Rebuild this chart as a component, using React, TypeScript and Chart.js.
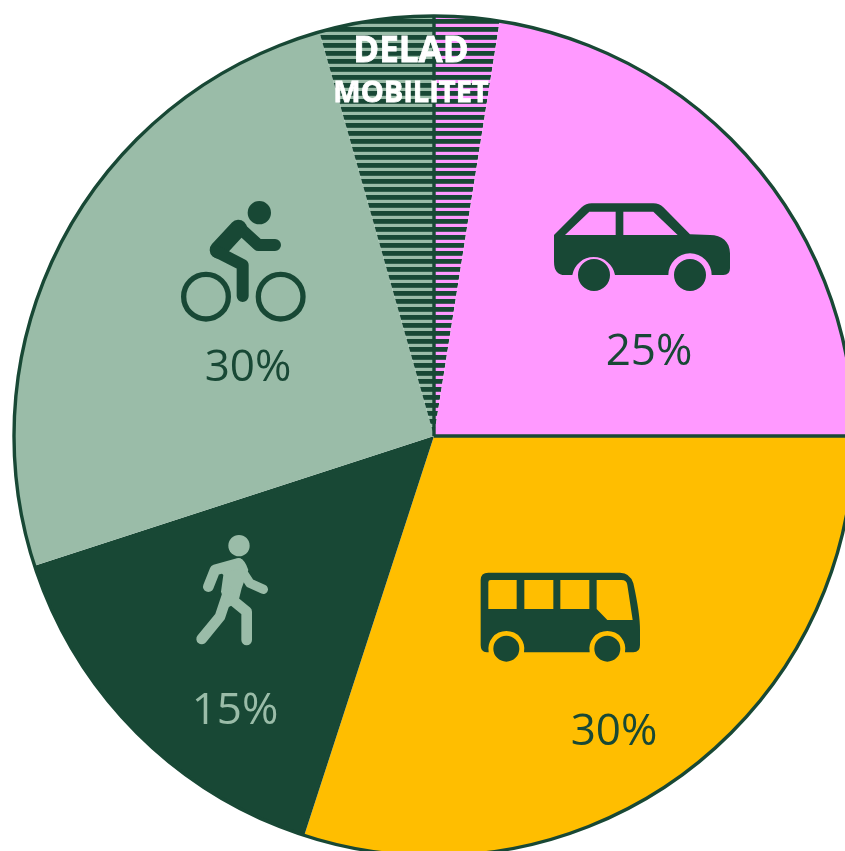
import React, { useEffect, useRef } from "react";
import { Chart, registerables } from "chart.js";

Chart.register(...registerables);

const categories = ["Delad bil", "Bil", "Kollektivtrafik", "Gång", "Cykel", "Delad cykel"];
const shareValues = [2.5, 22.5, 30, 15, 25.6, 4.4];
const percentLabels = ["25%", "30%", "15%", "30%"];
const sharedLines = ["DELAD", "MOBILITET"];

const DARK = "#184835";
const LIGHT = "#9abca8";
const PINK = "#ff99ff";
const YELLOW = "#ffbe00";

const labelPlaces = [
  { x: 649, y: 365, color: DARK },
  { x: 614, y: 745, color: DARK },
  { x: 235, y: 724, color: LIGHT },
  { x: 248, y: 381, color: DARK },
];

function stripes(ctx: CanvasRenderingContext2D, bg: string) {
  const c = document.createElement("canvas");
  c.width = 16;
  c.height = 8;
  const p = c.getContext("2d")!;
  p.fillStyle = bg;
  p.fillRect(0, 0, 16, 8);
  p.fillStyle = DARK;
  p.fillRect(0, 3, 16, 4.8);
  return ctx.createPattern(c, "repeat")!;
}

const CAR = "M42 135 L125 52 Q138 40 155 40 L340 40 Q358 40 370 52 L450 133 L510 135 C545 135 570 155 570 190 L570 235 Q570 255 550 255 L515 255 A65 65 0 0 0 385 255 L225 255 A65 65 0 0 0 97 255 L75 255 Q42 255 42 215 Z M75 135 L148 65 L227 65 L227 135 Z M250 65 L340 65 L413 135 L250 135 Z";
const CAR_WHEELS = "M210 255 A48 48 0 1 1 114 255 A48 48 0 1 1 210 255 Z M498 255 A48 48 0 1 1 402 255 A48 48 0 1 1 498 255 Z";
const BUS = "M32 60 Q32 38 55 38 L450 38 Q480 38 490 70 Q510 160 510 210 L510 255 Q510 277 490 277 L465 277 A54 54 0 1 0 359 277 L162 277 A54 54 0 1 0 56 277 L50 277 Q32 277 32 255 Z M62 60 L140 60 L140 147 L55 147 L55 67 Q55 60 62 60 Z M163 60 L250 60 L250 147 L163 147 Z M271 60 L358 60 L358 147 L271 147 Z M380 60 L455 60 Q470 60 472 75 L488 180 L412 180 L380 147 Z";
const BUS_WHEELS = "M148 266 A39 39 0 1 1 70 266 A39 39 0 1 1 148 266 Z M451 266 A39 39 0 1 1 373 266 A39 39 0 1 1 451 266 Z";
const WALK_BODY = "M90 125 L165 100 Q180 105 190 135 L170 190 L160 230 L125 250 L108 200 L115 150 Z";
const BIKE_HEAD = "M303 68 A35 35 0 1 1 233 68 A35 35 0 1 1 303 68 Z";
const WALK_HEAD = "M194 62 A32 32 0 1 1 130 62 A32 32 0 1 1 194 62 Z";

function stroke(ctx: CanvasRenderingContext2D, path: string, width: number) {
  ctx.lineWidth = width;
  ctx.lineCap = "round";
  ctx.lineJoin = "round";
  ctx.stroke(new Path2D(path));
}

function drawIcons(ctx: CanvasRenderingContext2D) {
  ctx.save();
  ctx.translate(540, 190);
  ctx.scale(1 / 3, 1 / 3);
  ctx.fillStyle = DARK;
  ctx.fill(new Path2D(CAR), "evenodd");
  ctx.fill(new Path2D(CAR_WHEELS));
  ctx.restore();

  ctx.save();
  ctx.translate(470, 560);
  ctx.scale(1 / 3, 1 / 3);
  ctx.fillStyle = DARK;
  ctx.fill(new Path2D(BUS), "evenodd");
  ctx.fill(new Path2D(BUS_WHEELS));
  ctx.restore();

  ctx.save();
  ctx.translate(185, 525);
  ctx.scale(1 / 3, 1 / 3);
  ctx.fillStyle = LIGHT;
  ctx.strokeStyle = LIGHT;
  ctx.fill(new Path2D(WALK_HEAD));
  ctx.fill(new Path2D(WALK_BODY));
  stroke(ctx, "M70 185 L90 135 L160 115", 32);
  stroke(ctx, "M172 140 L195 175 L235 193", 28);
  stroke(ctx, "M50 342 L105 275 L130 200", 32);
  stroke(ctx, "M130 215 L185 260 L185 345", 32);
  ctx.restore();

  ctx.save();
  ctx.translate(170, 190);
  ctx.scale(1 / 3, 1 / 3);
  ctx.fillStyle = DARK;
  ctx.strokeStyle = DARK;
  ctx.fill(new Path2D(BIKE_HEAD));
  stroke(ctx, "M205 115 L145 180", 52);
  stroke(ctx, "M205 110 L265 165 L315 165", 36);
  stroke(ctx, "M140 185 L218 225 L218 318", 36);
  stroke(ctx, "M175 320 A67 67 0 1 1 41 320 A67 67 0 1 1 175 320 Z", 16);
  stroke(ctx, "M399 320 A67 67 0 1 1 265 320 A67 67 0 1 1 399 320 Z", 16);
  ctx.restore();
}

const overlay = {
  id: "overlay",
  afterDatasetsDraw(chart: any) {
    const ctx: CanvasRenderingContext2D = chart.ctx;
    const arcs = chart.getDatasetMeta(0).data;
    const { x, y, outerRadius } = arcs[0];
    ctx.save();
    ctx.strokeStyle = DARK;
    ctx.lineWidth = 3.4;
    ctx.beginPath();
    ctx.arc(x, y, outerRadius, 0, Math.PI * 2);
    ctx.stroke();
    [arcs[0].startAngle, arcs[2].startAngle].forEach((a: number) => {
      ctx.beginPath();
      ctx.moveTo(x, y);
      ctx.lineTo(x + Math.cos(a) * outerRadius, y + Math.sin(a) * outerRadius);
      ctx.stroke();
    });
    ctx.restore();

    drawIcons(ctx);

    ctx.save();
    ctx.textAlign = "center";
    ctx.textBaseline = "alphabetic";
    ctx.font = '44px "Open Sans"';
    percentLabels.forEach((t, i) => {
      const p = labelPlaces[i];
      ctx.fillStyle = p.color;
      ctx.fillText(t, p.x, p.y);
    });
    ctx.fillStyle = "#ffffff";
    ctx.strokeStyle = "#ffffff";
    ctx.lineWidth = 0.8;
    ctx.font = 'bold 35px "Open Sans"';
    ctx.fillText(sharedLines[0], 411, 62);
    ctx.strokeText(sharedLines[0], 411, 62);
    ctx.font = 'bold 29px "Open Sans"';
    ctx.fillText(sharedLines[1], 411, 102);
    ctx.strokeText(sharedLines[1], 411, 102);
    ctx.restore();
  },
};

export default function App() {
  const ref = useRef<HTMLCanvasElement>(null);
  useEffect(() => {
    document.body.style.margin = "0";
    const ctx = ref.current!.getContext("2d")!;
    const chart = new Chart(ctx, {
      type: "pie",
      data: {
        labels: categories,
        datasets: [
          {
            data: shareValues,
            backgroundColor: [stripes(ctx, PINK), PINK, YELLOW, DARK, LIGHT, stripes(ctx, LIGHT)],
            borderWidth: 0,
          },
        ],
      },
      options: {
        animation: false,
        responsive: false,
        radius: 420,
        layout: { padding: 0 },
        plugins: { legend: { display: false }, tooltip: { enabled: false } },
      },
      plugins: [overlay],
    } as any);
    return () => chart.destroy();
  }, []);
  return (
    <div style={{ position: "fixed", left: 0, top: 0, width: 845, height: 851, overflow: "hidden", background: "#fff" }}>
      <canvas ref={ref} width={868} height={872} style={{ display: "block" }} />
    </div>
  );
}
